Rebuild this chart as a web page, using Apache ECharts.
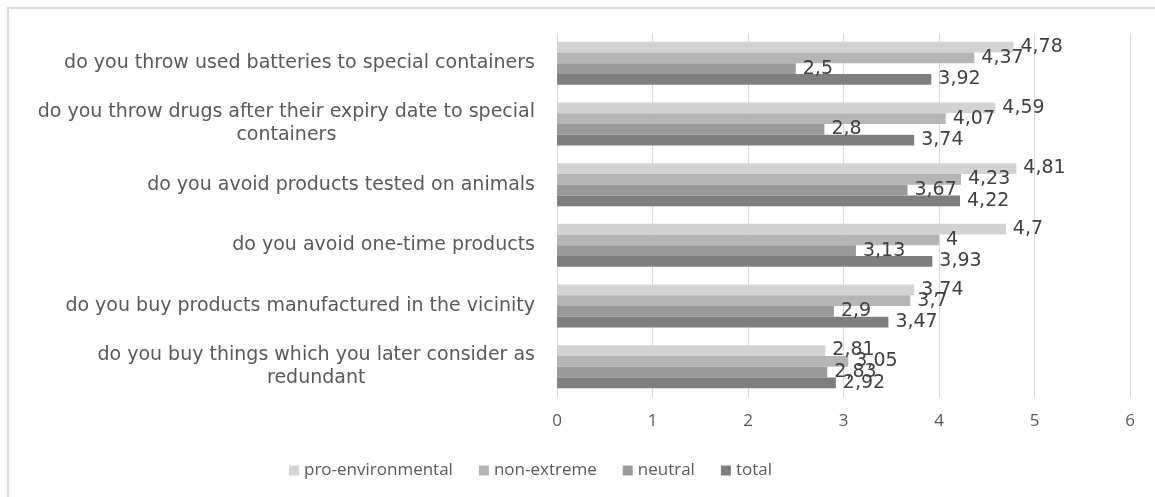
<!DOCTYPE html>
<html>
<head>
<meta charset="utf-8">
<script src="https://cdn.jsdelivr.net/npm/echarts@6/dist/echarts.min.js"></script>
<style>html,body{margin:0;padding:0;background:#fff;overflow:hidden}#c{width:1155px;height:497px}</style>
</head>
<body>
<div id="c"></div>
<script>
const categories = [
  "do you throw used batteries to special containers",
  "do you throw drugs after their expiry date to special\ncontainers",
  "do you avoid products tested on animals",
  "do you avoid one-time products",
  "do you buy products manufactured in the vicinity",
  "do you buy things which you later consider as\nredundant"
];
const seriesNames = ["pro-environmental", "non-extreme", "neutral", "total"];
const proEnvironmental = [4.78, 4.59, 4.81, 4.7, 3.74, 2.81];
const nonExtreme = [4.37, 4.07, 4.23, 4, 3.7, 3.05];
const neutral = [2.5, 2.8, 3.67, 3.13, 2.9, 2.83];
const total = [3.92, 3.74, 4.22, 3.93, 3.47, 2.92];
const xTicks = [0, 1, 2, 3, 4, 5, 6];

const colors = ["#d3d3d3", "#b5b5b5", "#9a9a9a", "#7f7f7f"];
const FONT = "Open Sans";
const WIDE = "DejaVu Sans";
const values = [proEnvironmental, nonExtreme, neutral, total];

const chart = echarts.init(document.getElementById('c'), null, {renderer: 'canvas'});
chart.setOption({
  animation: false,
  backgroundColor: '#fff',
  textStyle: {fontFamily: FONT},
  graphic: [{
    type: 'polyline', silent: true,
    shape: {points: [[8, 600], [8, 8], [1300, 8]]},
    style: {fill: null, stroke: '#d9d9d9', lineWidth: 2}
  }],
  grid: {left: 557, right: 25, top: 33, bottom: 100, containLabel: false},
  legend: {
    left: 284, top: 457,
    icon: 'rect', itemWidth: 10, itemHeight: 10, itemGap: 26,
    textStyle: {color: '#595959', fontSize: 17, fontFamily: FONT},
    data: seriesNames
  },
  xAxis: {
    type: 'value', min: xTicks[0], max: xTicks[xTicks.length - 1], interval: 1,
    axisLine: {show: false}, axisTick: {show: false},
    splitLine: {show: true, lineStyle: {color: '#d9d9d9', width: 1}},
    axisLabel: {color: '#595959', fontSize: 17, margin: 16, fontFamily: FONT}
  },
  yAxis: {
    type: 'category', inverse: true, data: categories,
    axisLine: {show: false}, axisTick: {show: false}, splitLine: {show: false},
    axisLabel: {
      color: '#595959', fontSize: 19, margin: 22, fontFamily: WIDE, lineHeight: 23,
      formatter: v => v.split('\n').map(l => '{c|' + l + '}').join('\n'),
      rich: {c: {align: 'center', color: '#595959', fontSize: 19, fontFamily: WIDE, lineHeight: 23}}
    }
  },
  series: seriesNames.map((name, i) => ({
    name, type: 'bar', data: values[i],
    barGap: '0%', barCategoryGap: '29%',
    itemStyle: {color: colors[i]},
    label: {
      show: true, position: 'right', distance: 7,
      color: '#404040', fontSize: 19, fontFamily: WIDE,
      formatter: p => String(p.value).replace('.', ',')
    }
  }))
});
</script>
</body>
</html>
